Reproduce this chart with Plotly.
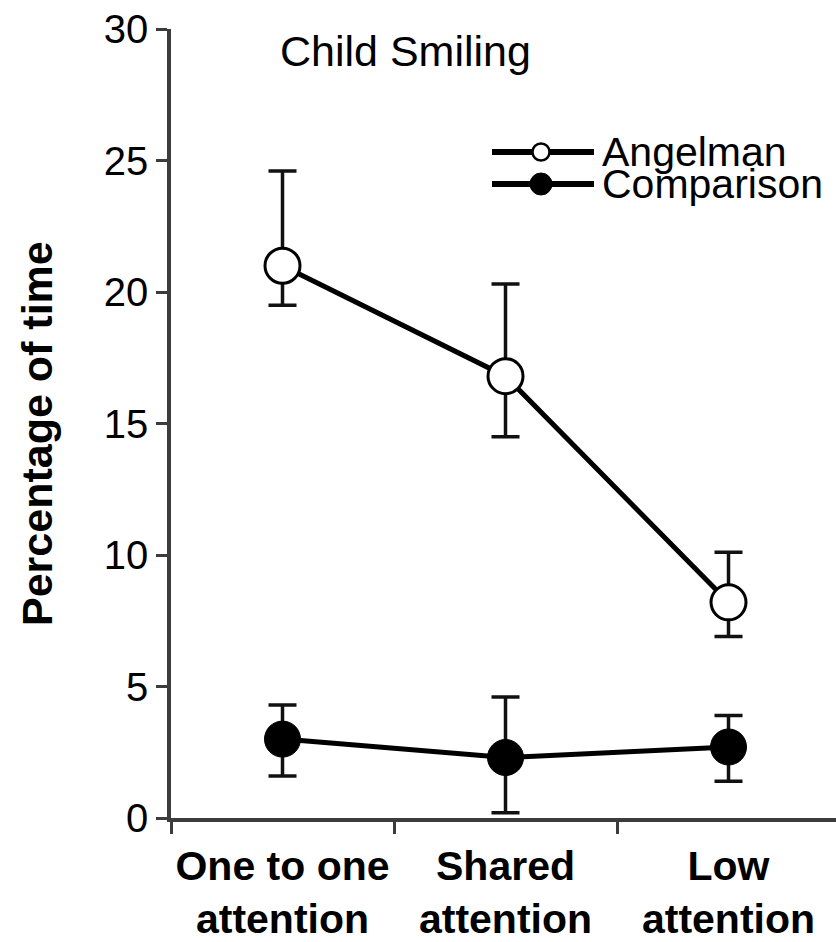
import plotly.graph_objects as go

# Observation data: percentage of time the child was smiling
conditions = ["One to one<br>attention", "Shared<br>attention", "Low<br>attention"]

angelman_mean = [21.0, 16.8, 8.2]
angelman_err_plus = [3.6, 3.5, 1.9]
angelman_err_minus = [1.5, 2.3, 1.3]

comparison_mean = [3.0, 2.3, 2.7]
comparison_err_plus = [1.3, 2.3, 1.2]
comparison_err_minus = [1.4, 2.1, 1.3]

y_ticks = [0, 5, 10, 15, 20, 25, 30]

FONT = "Liberation Sans, Arial, sans-serif"
AXIS_COLOR = "#3c3c3c"

fig = go.Figure()

fig.add_trace(go.Scatter(
    x=conditions, y=comparison_mean, mode="lines+markers", name="Comparison",
    line=dict(color="black", width=5),
    marker=dict(symbol="circle", size=36, color="black", line=dict(color="black", width=1)),
    error_y=dict(type="data", symmetric=False, array=comparison_err_plus,
                 arrayminus=comparison_err_minus, color="#111111", thickness=3.5, width=14),
    showlegend=False,
))

fig.add_trace(go.Scatter(
    x=conditions, y=angelman_mean, mode="lines+markers", name="Angelman",
    line=dict(color="black", width=5),
    marker=dict(symbol="circle", size=35, color="white", line=dict(color="black", width=3)),
    error_y=dict(type="data", symmetric=False, array=angelman_err_plus,
                 arrayminus=angelman_err_minus, color="#111111", thickness=3.5, width=14),
    showlegend=False,
))

# Hand-built legend in the upper right corner (tight row spacing)
legend_rows = [
    ("Angelman", 152, "white", 17, 2.5),
    ("Comparison", 184, "black", 22, 1),
]
H, W = 942, 836
L, R, T, B = 171, 0, 29, 124
pw, ph = W - L - R, H - T - B


def px_x(x):
    return (x - L) / pw


def px_y(y):
    return (H - B - y) / ph


shapes = []
annotations = []
for label, yy, fill, msize, mline in legend_rows:
    shapes.append(dict(type="line", xref="paper", yref="paper",
                       x0=px_x(492), x1=px_x(594), y0=px_y(yy), y1=px_y(yy),
                       line=dict(color="black", width=6)))
    shapes.append(dict(type="circle", xref="paper", yref="paper",
                       xsizemode="pixel", ysizemode="pixel",
                       xanchor=px_x(541), yanchor=px_y(yy),
                       x0=-msize / 2, x1=msize / 2, y0=-msize / 2, y1=msize / 2,
                       fillcolor=fill, line=dict(color="black", width=mline)))
    annotations.append(dict(text=label, xref="paper", yref="paper",
                            x=px_x(600), y=px_y(yy), xanchor="left", yanchor="middle",
                            showarrow=False, font=dict(family=FONT, size=41, color="black")))

annotations.append(dict(text="Child Smiling", xref="paper", yref="paper",
                        x=px_x(405), y=px_y(51), xanchor="center", yanchor="middle",
                        showarrow=False, font=dict(family=FONT, size=43, color="black")))

annotations.append(dict(text="<b>Percentage of time</b>", xref="paper", yref="paper",
                        x=px_x(37), y=px_y(434), xanchor="center", yanchor="middle",
                        textangle=-90, showarrow=False,
                        font=dict(family=FONT, size=43, color="black")))

fig.update_layout(
    width=W, height=H,
    margin=dict(l=L, r=R, t=T, b=B, pad=0),
    paper_bgcolor="white", plot_bgcolor="white",
    font=dict(family=FONT, color="black"),
    shapes=shapes, annotations=annotations,
    xaxis=dict(
        type="category", range=[-0.5, 2.482], tickson="boundaries",
        ticks="outside", ticklen=12, tickwidth=3, tickcolor=AXIS_COLOR,
        showline=True, linecolor=AXIS_COLOR, linewidth=3.5,
        showgrid=False, zeroline=False, ticklabelstandoff=9,
        tickangle=0, automargin=False,
        tickfont=dict(family=FONT, size=41, color="black"),
        tickprefix="<b>", ticksuffix="</b>",
    ),
    yaxis=dict(
        range=[0, 30], tickvals=y_ticks, ticktext=[str(v) for v in y_ticks],
        ticks="outside", ticklen=11, tickwidth=3, tickcolor=AXIS_COLOR,
        showline=True, linecolor=AXIS_COLOR, linewidth=3.5,
        showgrid=False, zeroline=False, automargin=False,
        tickfont=dict(family=FONT, size=40, color="black"),
    ),
)

fig.write_html("out.html")
